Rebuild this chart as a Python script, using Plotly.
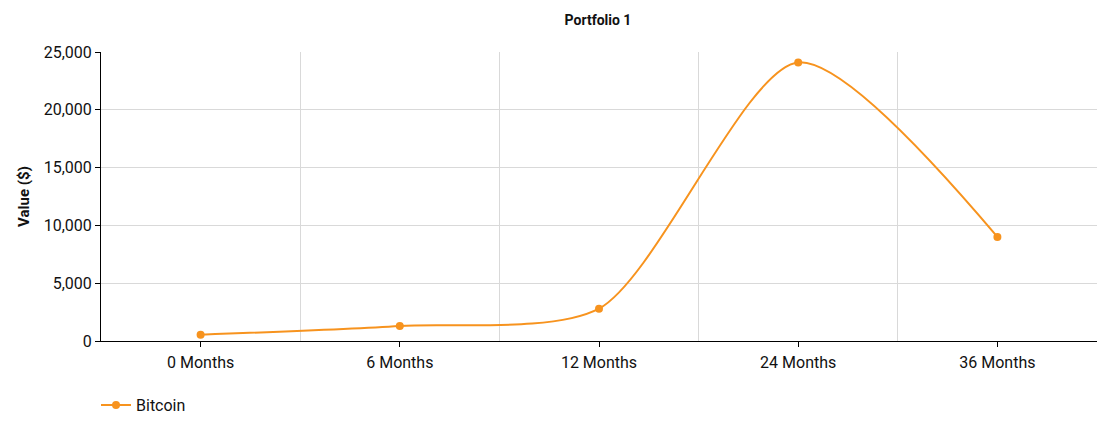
import plotly.graph_objects as go

categories = ["0 Months", "6 Months", "12 Months", "24 Months", "36 Months"]
bitcoin_values = [550, 1300, 2800, 24100, 9000]
y_ticks = [0, 5000, 10000, 15000, 20000, 25000]

positions = list(range(len(categories)))
boundaries = [p - 0.5 for p in positions] + [positions[-1] + 0.5]

fig = go.Figure()
fig.add_trace(go.Scatter(
    x=positions, y=bitcoin_values, name="Bitcoin",
    mode="lines+markers",
    line=dict(color="#F7931E", width=2, shape="spline", smoothing=0.75),
    marker=dict(color="#F7931E", size=8),
))

fig.update_layout(
    width=1098, height=418,
    margin=dict(l=93, r=9, t=44, b=85, autoexpand=False),
    paper_bgcolor="white", plot_bgcolor="white",
    font=dict(family="Roboto", size=16, color="#111"),
    title=dict(text="<b>Portfolio 1</b>", x=590/1098, xanchor="center", y=1-12/418, yanchor="middle",
               font=dict(size=14, family="Roboto", color="#111")),
    showlegend=True,
    legend=dict(orientation="h", x=-0.005, xanchor="left", y=-0.163, yanchor="top",
                font=dict(size=16), itemwidth=30),
    xaxis=dict(
        range=[-0.5, len(categories) - 0.5],
        tickmode="array", tickvals=positions, ticktext=categories,
        showgrid=False, zeroline=False,
        showline=True, linecolor="black", linewidth=1,
        ticks="outside", ticklen=5, tickcolor="black",
        ticklabelstandoff=2,
        minor=dict(tickmode="array", tickvals=boundaries, showgrid=True,
                   gridcolor="#d9d9d9", gridwidth=1, ticks=""),
        fixedrange=True,
    ),
    yaxis=dict(
        range=[0, 25000],
        tickmode="array", tickvals=y_ticks, tickformat=",",
        showgrid=True, gridcolor="#d9d9d9", gridwidth=1, zeroline=False,
        showline=True, linecolor="black", linewidth=1,
        ticks="outside", ticklen=5, tickcolor="black",
        title=dict(text="<b>Value ($)</b>", font=dict(size=15), standoff=10),
    ),
)

fig.write_html("out.html")
